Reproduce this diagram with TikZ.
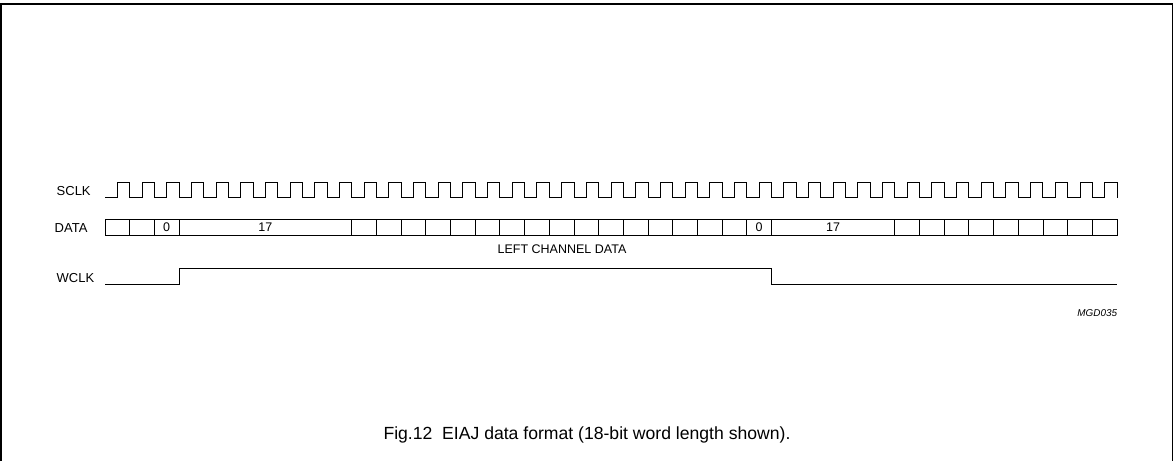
\documentclass[tikz,border=0pt]{standalone}
\usepackage{fontspec}
\setmainfont{Liberation Sans}
\usepackage{tikz}
\tikzstyle{signal} = [line width=0.9pt, line join=miter]
\tikzstyle{frame} = [line width=1.1pt]
\tikzstyle{sig name} = [anchor=base west, inner sep=0pt, font=\fontsize{13}{15}\selectfont]
\tikzstyle{bit} = [anchor=base, inner sep=0pt, font=\fontsize{12.5}{15}\selectfont]

\begin{document}
\begin{tikzpicture}[x=1pt, y=-1pt]
        \useasboundingbox (0,0) rectangle (1175,461);
        % outer frame, open at the bottom
        \draw [frame] (1,461) -- (1,4) -- (1172.5,4) -- (1172.5,461);
        % signal names
        \node (sclk) [sig name] at (56.5,195.7) {SCLK};
        \node (data) [sig name] at (54.5,232.5) {DATA};
        \node (wclk) [sig name] at (56.5,282.3) {WCLK};
        % bit clock
        \draw [signal] (105,197.7) \foreach \k in {0,...,40}{ -- ++(12.341,0) -- ++(0,-15) -- ++(12.341,0) -- ++(0,15)};
        % data slots
        \draw [signal] (105,219.3) rectangle (1117,235);
        \foreach \k in {1,2,3}
            \draw [signal] ({105+\k*24.683},219.3) -- ({105+\k*24.683},235);
        \foreach \k in {10,11,...,27}
            \draw [signal] ({105+\k*24.683},219.3) -- ({105+\k*24.683},235);
        \foreach \k in {32,33,...,40}
            \draw [signal] ({105+\k*24.683},219.3) -- ({105+\k*24.683},235);
        \node (msb1) [bit] at ({105+2.5*24.683},231.8) {0};
        \node (lsb1) [bit] at ({105+6.5*24.683},231.8) {17};
        \node (msb2) [bit] at ({105+26.5*24.683},231.8) {0};
        \node (lsb2) [bit] at ({105+29.5*24.683},231.8) {17};
        \node (left) [bit] at (562,253) {LEFT CHANNEL DATA};
        % word clock
        \draw [signal] (105,284.3) -- (179.05,284.3) -- (179.05,268.7) -- (771.4,268.7) -- (771.4,284.3) -- (1117,284.3);
        \node (code) [anchor=base east, inner sep=0pt, font=\fontsize{9.9}{12}\selectfont\itshape] at (1117.3,316.5) {MGD035};
        \node (caption) [anchor=base, inner sep=0pt, font=\fontsize{17.6}{20}\selectfont] at (587,439.3) {Fig.12\ \ EIAJ data format (18-bit word length shown).};
\end{tikzpicture}
\end{document}
